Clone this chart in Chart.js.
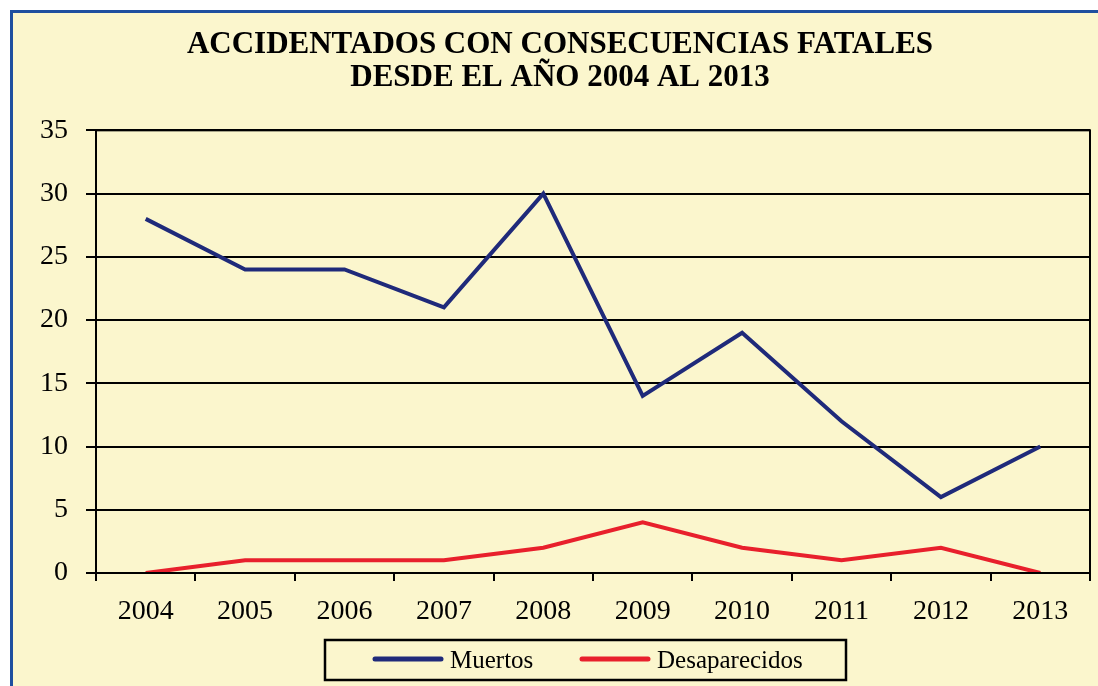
<!DOCTYPE html>
<html>
<head>
<meta charset="utf-8">
<script src="https://cdn.jsdelivr.net/npm/chart.js@4.4.0/dist/chart.umd.min.js"></script>
<style>
  html, body { margin: 0; padding: 0; background: #ffffff; }
  #frame {
    position: absolute; left: 10px; top: 10px; width: 1088px; height: 676px;
    background: #fbf6cd; border-left: 3px solid #1e4f9f; border-top: 3px solid #1e4f9f;
    box-sizing: border-box;
  }
  #wrap { position: absolute; left: 0; top: 0; width: 1098px; height: 686px; }
</style>
</head>
<body>
<div id="frame"></div>
<div id="wrap"><canvas id="accChart"></canvas></div>
<script>
// data
const years = ['2004', '2005', '2006', '2007', '2008', '2009', '2010', '2011', '2012', '2013'];
const muertos = [28, 24, 24, 21, 30, 14, 19, 12, 6, 10];
const desaparecidos = [0, 1, 1, 1, 2, 4, 2, 1, 2, 0];
const titleLines = ['ACCIDENTADOS CON CONSECUENCIAS FATALES', 'DESDE EL AÑO 2004 AL 2013'];

const serif = "'Liberation Serif', 'DejaVu Serif', serif";

// frame around the plot area plus the boxed legend under the axis
const boxPlugin = {
    id: 'boxPlugin',
    afterDraw(chart) {
        const ctx = chart.ctx;
        const a = chart.chartArea;
        ctx.save();
        ctx.strokeStyle = '#000';
        ctx.lineWidth = 2;
        ctx.strokeRect(a.left, a.top, a.right - a.left, a.bottom - a.top);

        // legend
        const boxW = 521, boxH = 40;
        const bx = 325, by = 640;
        ctx.lineWidth = 2.5;
        ctx.strokeRect(bx, by, boxW, boxH);
        const items = [{ lineX: 50, lineW: 66, textX: 125 }, { lineX: 257, lineW: 66, textX: 332 }];
        ctx.font = '25px ' + serif;
        ctx.textBaseline = 'middle';
        ctx.fillStyle = '#000';
        chart.data.datasets.forEach((ds, i) => {
            const it = items[i];
            const cy = by + 19;
            ctx.strokeStyle = ds.borderColor;
            ctx.lineWidth = 5;
            ctx.lineCap = 'round';
            ctx.beginPath();
            ctx.moveTo(bx + it.lineX, cy);
            ctx.lineTo(bx + it.lineX + it.lineW, cy);
            ctx.stroke();
            ctx.fillText(ds.label, bx + it.textX, cy + 2);
        });
        ctx.restore();
    }
};

const ctx = document.getElementById('accChart').getContext('2d');
const accChart = new Chart(ctx, {
    type: 'line',
    data: {
        labels: years,
        datasets: [{
            label: 'Muertos',
            data: muertos,
            borderColor: '#1f2a7a',
            borderWidth: 4,
            pointRadius: 0,
            tension: 0
        }, {
            label: 'Desaparecidos',
            data: desaparecidos,
            borderColor: '#e8202c',
            borderWidth: 4,
            pointRadius: 0,
            tension: 0
        }]
    },
    options: {
        responsive: true,
        maintainAspectRatio: false,
        animation: false,
        layout: { padding: { left: 30, right: 8, top: 0, bottom: 0 } },
        plugins: {
            legend: { display: false },
            tooltip: { enabled: false },
            title: {
                display: true,
                text: titleLines,
                color: '#000',
                font: { family: serif, size: 31, weight: 'bold', lineHeight: 1.07 },
                padding: { top: 28, bottom: 36 }
            }
        },
        scales: {
            x: {
                offset: true,
                grid: {
                    offset: true,
                    drawOnChartArea: false,
                    drawTicks: true,
                    tickLength: 8,
                    color: '#000',
                    lineWidth: 2
                },
                border: { color: '#000', width: 2 },
                ticks: {
                    color: '#000',
                    font: { family: serif, size: 28 },
                    padding: 14,
                    maxRotation: 0
                },
                afterFit(scale) { scale.height = 113; }
            },
            y: {
                min: 0,
                max: 35,
                ticks: {
                    stepSize: 5,
                    color: '#000',
                    font: { family: serif, size: 28 },
                    padding: 18
                },
                grid: {
                    color: '#000',
                    lineWidth: 2,
                    tickLength: 10
                },
                border: { color: '#000', width: 2 },
                afterFit(scale) { scale.width = 66; }
            }
        }
    },
    plugins: [boxPlugin]
});
</script>
</body>
</html>
